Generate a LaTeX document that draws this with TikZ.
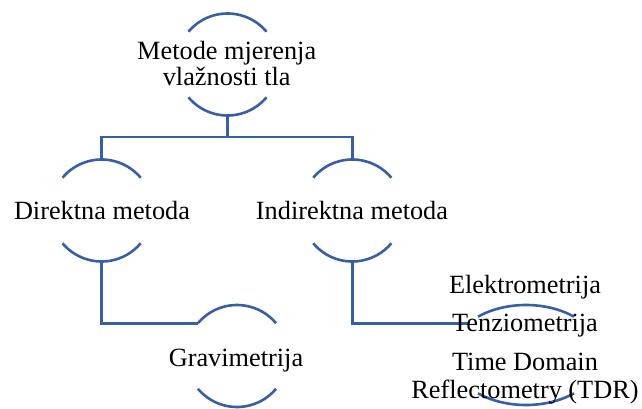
\documentclass[tikz,border=0pt]{standalone}
\usepackage{fontspec}
\setmainfont{Liberation Serif}
\definecolor{arcblue}{RGB}{56,94,168}
\begin{document}
\begin{tikzpicture}[x=1pt,y=1pt,
  hub/.style={circle,minimum size=102pt,inner sep=0pt,outer sep=0pt},
  lbl/.style={anchor=base,inner sep=0pt,outer sep=0pt,font=\fontsize{26.3}{28}\selectfont,text=black},
  arcline/.style={draw=arcblue,line width=2.6pt},
  link/.style={draw=arcblue,line width=2.6pt}]
\useasboundingbox (0,0) rectangle (642,408);
% hubs (invisible circles carrying the arcs)
\node[hub] (top) at (227.5,343.5) {};
\node[hub] (dir) at (101.6,197.5) {};
\node[hub] (ind) at (352.3,197.5) {};
\node[hub] (grav) at (237,52) {};
\coordinate (rc) at (526,53);
\coordinate (j) at (227.5,271);
\coordinate (rin) at (470,84.6);
% arcs
\foreach \n in {top,dir,ind,grav}{
  \draw[arcline] (\n.140) arc[start angle=140,end angle=40,radius=51pt];
  \draw[arcline] (\n.220) arc[start angle=220,end angle=320,radius=51pt];
}
\draw[arcline] ([shift={(130:74.7pt and 50pt)}]rc) arc[start angle=130,end angle=50,x radius=74.7pt,y radius=50pt];
\draw[arcline] ([shift={(230:74.7pt and 50pt)}]rc) arc[start angle=230,end angle=310,x radius=74.7pt,y radius=50pt];
% connectors
\draw[link] (top.south) -- (j) -| (dir.north);
\draw[link] (j) -| (ind.north);
\draw[link] (dir.south) |- (grav.140);
\draw[link] (ind.south) |- (rin);
% labels
\node[lbl] (t1) at (226.7,348.5) {Metode mjerenja};
\node[lbl] (t2) at (226.7,322.5) {vlažnosti tla};
\node[lbl] (td) at (102,188.7) {Direktna metoda};
\node[lbl] (ti) at (352,188.7) {Indirektna metoda};
\node[lbl] (tg) at (236,42) {Gravimetrija};
\node[lbl] (te) at (525,114.7) {Elektrometrija};
\node[lbl] (tz) at (525,76.3) {Tenziometrija};
\node[lbl] (tt) at (525,38) {Time Domain};
\node[lbl] (tr) at (525,9.7) {Reflectometry (TDR)};
\end{tikzpicture}
\end{document}
